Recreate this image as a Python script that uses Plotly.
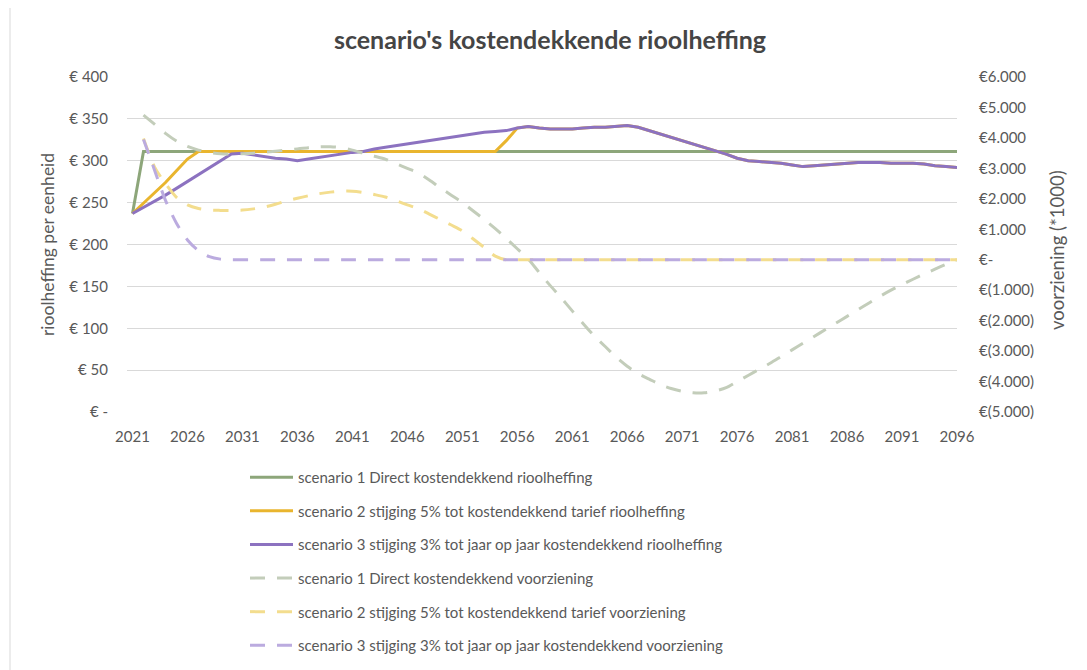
import plotly.graph_objects as go

years = list(range(2021, 2097))

# rioolheffing per eenheid (EUR) - left axis
s1_tarief = [237, 311, 311, 311, 311, 311, 311, 311, 311, 311,
             311, 311, 311, 311, 311, 311, 311, 311, 311, 311,
             311, 311, 311, 311, 311, 311, 311, 311, 311, 311,
             311, 311, 311, 311, 311, 311, 311, 311, 311, 311,
             311, 311, 311, 311, 311, 311, 311, 311, 311, 311,
             311, 311, 311, 311, 311, 311, 311, 311, 311, 311,
             311, 311, 311, 311, 311, 311, 311, 311, 311, 311,
             311, 311, 311, 311, 311, 311]

s3_tarief = [237, 244, 251, 259, 267, 275, 283, 291, 300, 308,
             309, 307, 305, 303, 302, 300, 302, 304, 306, 308,
             310, 311, 314, 316, 318, 320, 322, 324, 326, 328,
             330, 332, 334, 335, 336, 339, 341, 339, 338, 338,
             338, 339, 340, 340, 341, 342, 340, 336, 332, 328,
             324, 320, 316, 312, 308, 303, 300, 299, 298, 297,
             295, 293, 294, 295, 296, 297, 298, 298, 298, 297,
             297, 297, 296, 294, 293, 292]

s2_tarief = [237, 249, 261, 274, 288, 302, 311, 311, 311, 311,
             311, 311, 311, 311, 311, 311, 311, 311, 311, 311,
             311, 311, 311, 311, 311, 311, 311, 311, 311, 311,
             311, 311, 311, 311, 324, 339, 341, 339, 338, 338,
             338, 339, 340, 340, 341, 342, 340, 336, 332, 328,
             324, 320, 316, 312, 308, 303, 300, 299, 298, 297,
             295, 293, 294, 295, 296, 297, 298, 298, 298, 297,
             297, 297, 296, 294, 293, 292]

# voorziening (*1000 EUR) - right axis
s1_voorz = [None, 4.75, 4.45, 4.15, 3.90, 3.72, 3.60, 3.52, 3.48, 3.47,
            3.48, 3.50, 3.53, 3.56, 3.60, 3.64, 3.68, 3.71, 3.71, 3.68,
            3.60, 3.50, 3.40, 3.30, 3.15, 3.00, 2.85, 2.62, 2.36, 2.12,
            1.88, 1.60, 1.32, 1.02, 0.70, 0.36, 0.02, -0.42, -0.85, -1.25,
            -1.68, -2.10, -2.50, -2.85, -3.20, -3.50, -3.74, -3.92, -4.10, -4.23,
            -4.32, -4.37, -4.37, -4.31, -4.20, -4.00, -3.80, -3.60, -3.40, -3.18,
            -2.96, -2.74, -2.52, -2.30, -2.08, -1.86, -1.64, -1.42, -1.20, -1.00,
            -0.82, -0.64, -0.47, -0.31, -0.15, 0.00]

s2_voorz = [None, 3.98, 3.05, 2.50, 2.05, 1.80, 1.68, 1.63, 1.62, 1.62,
            1.63, 1.67, 1.73, 1.82, 1.93, 2.02, 2.10, 2.17, 2.22, 2.25,
            2.25, 2.21, 2.14, 2.06, 1.94, 1.80, 1.68, 1.50, 1.32, 1.14,
            0.95, 0.68, 0.40, 0.12, 0.00, 0.00, 0.00, 0.00, 0.00, 0.00,
            0.00, 0.00, 0.00, 0.00, 0.00, 0.00, 0.00, 0.00, 0.00, 0.00,
            0.00, 0.00, 0.00, 0.00, 0.00, 0.00, 0.00, 0.00, 0.00, 0.00,
            0.00, 0.00, 0.00, 0.00, 0.00, 0.00, 0.00, 0.00, 0.00, 0.00,
            0.00, 0.00, 0.00, 0.00, 0.00, 0.00]

s3_voorz = [None, 3.95, 2.95, 1.95, 1.20, 0.65, 0.30, 0.10, 0.02, 0.00,
            0.00, 0.00, 0.00, 0.00, 0.00, 0.00, 0.00, 0.00, 0.00, 0.00,
            0.00, 0.00, 0.00, 0.00, 0.00, 0.00, 0.00, 0.00, 0.00, 0.00,
            0.00, 0.00, 0.00, 0.00, 0.00, 0.00, 0.00, 0.00, 0.00, 0.00,
            0.00, 0.00, 0.00, 0.00, 0.00, 0.00, 0.00, 0.00, 0.00, 0.00,
            0.00, 0.00, 0.00, 0.00, 0.00, 0.00, 0.00, 0.00, 0.00, 0.00,
            0.00, 0.00, 0.00, 0.00, 0.00, 0.00, 0.00, 0.00, 0.00, 0.00,
            0.00, 0.00, 0.00, 0.00, 0.00, 0.00]

x_tickvals = [2021, 2026, 2031, 2036, 2041, 2046, 2051, 2056, 2061, 2066,
              2071, 2076, 2081, 2086, 2091, 2096]
left_tickvals = [0, 50, 100, 150, 200, 250, 300, 350, 400]
left_ticktext = ["€ -", "€ 50", "€ 100", "€ 150", "€ 200", "€ 250", "€ 300", "€ 350", "€ 400"]
right_tickvals = [-5, -4, -3, -2, -1, 0, 1, 2, 3, 4, 5, 6]
right_ticktext = ["€(5.000)", "€(4.000)", "€(3.000)", "€(2.000)", "€(1.000)", "€-",
                  "€1.000", "€2.000", "€3.000", "€4.000", "€5.000", "€6.000"]

names = [
    "scenario 1 Direct kostendekkend rioolheffing",
    "scenario 2 stijging 5% tot kostendekkend tarief rioolheffing",
    "scenario 3 stijging 3% tot jaar op jaar kostendekkend rioolheffing",
    "scenario 1 Direct kostendekkend voorziening",
    "scenario 2 stijging 5% tot kostendekkend tarief voorziening",
    "scenario 3 stijging 3% tot jaar op jaar kostendekkend voorziening",
]

FONT = "Lato, 'Open Sans', sans-serif"
GRAY = "#595959"

fig = go.Figure()
solid = [(s1_tarief, "#8DA67A"), (s2_tarief, "#E9B52E"), (s3_tarief, "#8C72C0")]
for i, (vals, col) in enumerate(solid):
    fig.add_trace(go.Scatter(x=years, y=vals, mode="lines", name=names[i],
                             legendgroup=f"g{i}", yaxis="y",
                             line=dict(color=col, width=3)))
dashed = [(s1_voorz, "#C3CDBA"), (s2_voorz, "#F3DD8E"), (s3_voorz, "#BBABDF")]
for j, (vals, col) in enumerate(dashed):
    i = j + 3
    fig.add_trace(go.Scatter(x=years, y=vals, mode="lines", name=names[i],
                             legendgroup=f"g{i}", yaxis="y2",
                             line=dict(color=col, width=3, dash="15px,12px",
                                       shape="spline", smoothing=0.8)))

# page is rendered with an 8px body margin: screen px = figure px + 8
OFF = 8
W, H = 1087 - OFF, 670 - OFF
L, R, T, B = 127, 957, 77, 412          # plot area in screen pixels
pw, ph = R - L, B - T

def px_x(p):
    return (p - L) / pw

def px_y(p):
    return (B - p) / ph

fig.update_layout(
    width=W, height=H,
    margin=dict(l=L - OFF, r=W - (R - OFF), t=T - OFF, b=H - (B - OFF), autoexpand=False),
    paper_bgcolor="white", plot_bgcolor="white",
    font=dict(family=FONT, color=GRAY, size=15),
    title=dict(text="scenario's kostendekkende rioolheffing",
               font=dict(family=FONT, size=25, color="#454545", weight="bold"),
               xref="paper", x=px_x(550), xanchor="center",
               yref="container", y=1 - (40 - OFF) / H, yanchor="middle"),
    xaxis=dict(range=[2020.5, 2096], tickvals=x_tickvals, ticktext=[str(v) for v in x_tickvals],
               showgrid=False, zeroline=False, showline=False, ticks="",
               ticklabelstandoff=14, tickfont=dict(size=15, color=GRAY), automargin=False),
    yaxis=dict(range=[0, 400], tickvals=left_tickvals, ticktext=left_ticktext,
               showgrid=True, gridcolor="#D9D9D9", gridwidth=1, zeroline=False,
               showline=False, ticks="", ticklabelstandoff=18,
               tickfont=dict(size=15, color=GRAY), automargin=False),
    yaxis2=dict(range=[-5, 6], tickvals=right_tickvals, ticktext=right_ticktext,
                overlaying="y", side="right", showgrid=False, zeroline=False,
                showline=False, ticks="", ticklabelstandoff=21,
                tickfont=dict(size=15, color=GRAY), automargin=False),
    legend=dict(orientation="v", x=px_x(245), xanchor="left",
                y=px_y(461), yanchor="top", tracegroupgap=11.1, itemwidth=43,
                font=dict(family=FONT, size=15, color=GRAY),
                bgcolor="rgba(0,0,0,0)"),
    showlegend=True,
    annotations=[
        dict(text="rioolheffing per eenheid", textangle=-90, xref="paper", yref="paper",
             x=px_x(47), y=px_y(245), xanchor="center", yanchor="middle",
             showarrow=False, font=dict(family=FONT, size=17.5, color=GRAY)),
        dict(text="voorziening (*1000)", textangle=-90, xref="paper", yref="paper",
             x=px_x(1057), y=px_y(250), xanchor="center", yanchor="middle",
             showarrow=False, font=dict(family=FONT, size=18.5, color=GRAY)),
    ],
    shapes=[
        dict(type="rect", xref="paper", yref="paper",
             x0=px_x(10), x1=px_x(1110), y0=px_y(700), y1=px_y(6),
             line=dict(color="#D9D9D9", width=1), fillcolor="rgba(0,0,0,0)", layer="below"),
    ],
)

fig.write_html("out.html")
